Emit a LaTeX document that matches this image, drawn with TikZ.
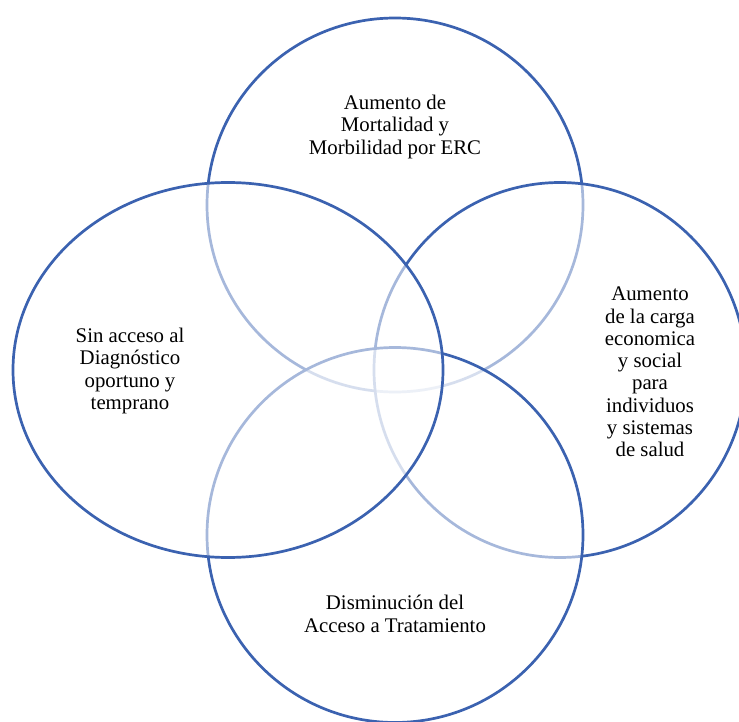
\documentclass[tikz,border=0pt]{standalone}
\usepackage{fontspec}
\setmainfont{Liberation Serif}
\usetikzlibrary{shapes.geometric}
\definecolor{vennblue}{RGB}{59,98,176}
\tikzset{
  venn/.style={ellipse, draw=vennblue, line width=2.7pt, fill=white,
    fill opacity=0.55, draw opacity=1, inner sep=0pt},
  label/.style={align=center, font=\fontsize{20.8}{22.3}\selectfont, inner sep=0pt}
}
\begin{document}
\begin{tikzpicture}[x=1pt,y=-1pt]
\useasboundingbox (0,0) rectangle (739,722);
% four overlapping sets, drawn back to front
\node[venn, minimum width=376pt, minimum height=374pt] (top)    at (395,205) {};
\node[venn, minimum width=372pt, minimum height=375pt] (right)  at (560,370) {};
\node[venn, minimum width=376pt, minimum height=375pt] (bottom) at (395,535) {};
\node[venn, minimum width=430pt, minimum height=375pt] (left)   at (228,370) {};
% captions
\node[label] (ttop)    at (395,127) {Aumento de\\Mortalidad y\\Morbilidad por ERC};
\node[label] (tleft)   at (130,371) {Sin acceso al\\Diagnóstico\\oportuno y\\temprano};
\node[label] (tright)  at (650,372) {Aumento\\de la carga\\economica\\y social\\para\\individuos\\y sistemas\\de salud};
\node[label] (tbottom) at (395,614) {Disminución del\\Acceso a Tratamiento};
\end{tikzpicture}
\end{document}
